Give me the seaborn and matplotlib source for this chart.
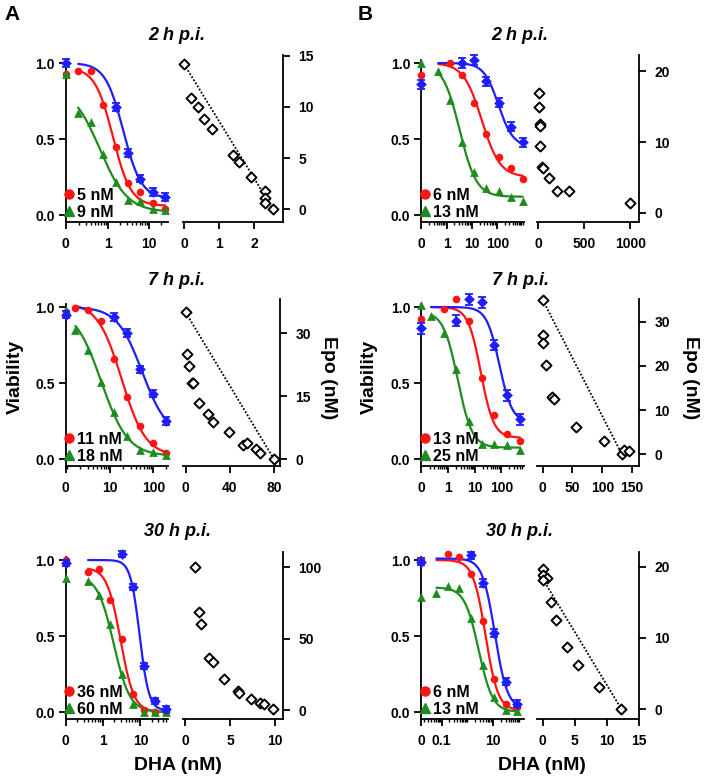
import matplotlib
matplotlib.use('Agg')
import matplotlib.pyplot as plt
from matplotlib.lines import Line2D
from matplotlib.ticker import FixedLocator, NullFormatter
import numpy as np
import seaborn as sns

nan = np.nan

# ---------------- data ----------------
titles = ['2 h p.i.', '7 h p.i.', '30 h p.i.']

# dose response: viability vs DHA (nM), 3 rows per panel (2 h, 7 h, 30 h)
a_doses = [[0.195, 0.39, 0.78, 1.56, 3.125, 6.25, 12.5, 25],
           [1.56, 3.125, 6.25, 12.5, 25, 50, 100, 200],
           [0.39, 0.78, 1.56, 3.125, 6.25, 12.5, 25, 50]]
a_red = [[0.945, 0.945, 0.725, 0.45, 0.21, 0.15, 0.08, 0.04],
         [0.994, 0.98, 0.905, 0.66, 0.41, 0.22, 0.105, 0.04],
         [0.92, 0.94, 0.74, 0.48, 0.12, 0.01, 0.0, 0.0]]
a_green = [[0.67, 0.61, 0.40, 0.22, 0.10, 0.09, 0.04, 0.03],
           [0.85, 0.72, 0.51, 0.31, 0.15, 0.057, 0.044, 0.024],
           [0.86, 0.77, 0.58, 0.25, 0.05, 0.0, 0.0, 0.0]]
a_blue = [[nan, nan, nan, 0.71, 0.41, 0.24, 0.15, 0.12],
          [nan, nan, nan, 0.934, 0.83, 0.59, 0.43, 0.25],
          [nan, nan, nan, 1.04, 0.82, 0.30, 0.07, 0.02]]
# 0 nM controls: red, green, blue
a_zero = [[0.93, 0.93, 1.0], [0.967, 0.98, 0.95], [1.0, 0.88, 0.98]]
a_sd = [0.025, 0.025, 0.02]
# Hill fits (top, bottom, IC50, slope) for red, green, blue
a_fit = [[(0.97, 0.06, 1.35, 2.0), (0.85, 0.02, 0.65, 1.3), (1.0, 0.11, 2.4, 2.0)],
         [(1.03, 0.02, 18.5, 1.55), (1.0, 0.02, 6.2, 1.4), (1.0, 0.15, 55, 1.5)],
         [(0.95, 0.0, 2.9, 2.4), (0.9, 0.0, 1.9, 2.0), (1.0, 0.01, 9.5, 3.5)]]
a_legend = [['5 nM', '9 nM'], ['11 nM', '18 nM'], ['36 nM', '60 nM']]

b_doses = [[0.457, 1.37, 4.1, 12.3, 37, 111, 333, 1000],
           [0.229, 0.686, 2.06, 6.17, 18.5, 55.6, 167, 500],
           [0.063, 0.18, 0.49, 1.4, 3.9, 11, 30, 85]]
b_red = [[nan, 1.0, 0.92, 0.74, 0.53, 0.38, 0.31, 0.235],
         [nan, 0.99, 1.055, 0.905, 0.53, 0.29, 0.166, 0.116],
         [nan, 1.04, 1.02, 0.91, 0.60, 0.22, 0.05, 0.03]]
b_green = [[0.945, 0.76, 0.48, 0.28, 0.18, 0.16, 0.12, 0.09],
           [0.94, 0.83, 0.59, 0.25, 0.10, 0.10, 0.09, 0.057],
           [0.785, 0.83, 0.813, 0.62, 0.31, 0.10, 0.01, 0.007]]
b_blue = [[nan, nan, 1.0, 1.02, 0.88, 0.74, 0.58, 0.48],
          [nan, nan, 0.91, 1.05, 1.03, 0.75, 0.42, 0.26],
          [nan, nan, nan, 1.03, 0.85, 0.52, 0.20, 0.055]]
b_zero = [[0.92, 1.0, 0.86], [0.923, 1.015, 0.86], [1.0, 0.754, 0.99]]
b_sd = [0.03, 0.035, 0.025]
b_fit = [[(1.0, 0.25, 24, 1.2), (1.0, 0.12, 3.2, 1.3), (1.0, 0.45, 110, 1.5)],
         [(1.0, 0.14, 17, 1.8), (0.97, 0.075, 2.3, 1.6), (1.0, 0.24, 85, 1.8)],
         [(1.0, 0.01, 5.0, 1.8), (0.82, 0.0, 2.7, 1.6), (1.01, 0.02, 11.5, 1.8)]]
b_legend = [['6 nM', '13 nM'], ['13 nM', '25 nM'], ['6 nM', '13 nM']]

# isobolograms: DHA (nM) vs Epo (nM)
a_iso_x = [[0, 0.2, 0.41, 0.58, 0.79, 1.41, 1.58, 1.93, 2.33, 2.33, 2.33, 2.55],
           [0, 1, 3, 5.4, 6.3, 12.4, 20.5, 25, 39.6, 51.7, 55.3, 63.4, 67.4, 80],
           [1.08, 1.56, 1.71, 2.68, 3.05, 4.31, 5.84, 5.99, 7.32, 8.33, 8.81, 9.81]]
a_iso_y = [[14.17, 10.9, 10.0, 8.86, 7.79, 5.34, 4.63, 3.16, 1.82, 1.07, 0.65, 0.0],
           [35, 25.2, 22.2, 18.3, 18.1, 13.5, 10.7, 8.9, 6.6, 3.4, 4.0, 2.4, 1.6, 0],
           [100.5, 69, 60.3, 36.2, 33.4, 21.7, 13.3, 11.7, 7.7, 5.1, 4.0, 0.5]]
a_additive = [([0, 2.55], [14.17, 0]), ([0, 80], [35, 0]), None]

b_iso_x = [[7, 7, 18, 18, 18, 43, 54, 114, 204, 339, 1000],
           [0, 0, 0, 5.6, 15.6, 18.4, 55.9, 103, 133, 137, 145],
           [0, 0, 0.68, 0, 1.3, 2.1, 3.8, 5.5, 8.75, 12.3]]
b_iso_y = [[17.0, 14.9, 12.5, 12.3, 9.5, 6.5, 6.4, 4.9, 3.1, 3.1, 1.4],
           [34.9, 27.0, 25.1, 20.2, 13.0, 12.5, 6.3, 3.0, 0.0, 1.1, 0.75],
           [19.7, 18.9, 18.5, 18.1, 15.1, 12.6, 8.7, 6.2, 3.05, 0.0]]
b_additive = [None, ([0, 133], [34.9, 0]), ([0, 12.3], [18.3, 0])]

# ---------------- axis set-up ----------------
a_lin = [0.1, 0.95, 0.1]
a_xmax = [29, 220, 55]
a_xticks = [([0, 1, 10], ['0', '1', '10']),
            ([0, 10, 100], ['0', '10', '100']),
            ([0, 1, 10], ['0', '1', '10'])]
b_lin = [0.1, 0.1, 0.0168]
b_xmax = [1100, 700, 150]
b_xticks = [([0, 1, 10, 100], ['0', '1', '10', '100']),
            ([0, 1, 10, 100], ['0', '1', '10', '100']),
            ([0, 0.1, 10], ['0', '0.1', '10'])]

a_iso_xlim = [(-0.03, 2.84), (-2.4, 85.4), (-0.26, 10.95)]
a_iso_ylim = [(-1.24, 15.06), (-1.6, 38.2), (-6.3, 110.7)]
a_iso_xticks = [[0, 1, 2], [0, 40, 80], [0, 5, 10]]
a_iso_yticks = [[0, 5, 10, 15], [0, 15, 30], [0, 50, 100]]
b_iso_xlim = [(-10.7, 1096), (-9.5, 162), (-0.9, 15.1)]
b_iso_ylim = [(-1.3, 22.3), (-2.6, 35.1), (-1.4, 22.1)]
b_iso_xticks = [[0, 500, 1000], [0, 50, 100, 150], [0, 5, 10, 15]]
b_iso_yticks = [[0, 10, 20], [0, 10, 20, 30], [0, 10, 20]]

RED = '#ff1414'
GREEN = '#1e8c1e'
BLUE = '#1e1eff'

W, H = 704, 780
ROW_DY = [0, 244, 497]

sns.set_theme(style='ticks')
plt.rcParams['font.family'] = ['Liberation Sans', 'DejaVu Sans']
plt.rcParams['font.weight'] = 'bold'
plt.rcParams['text.color'] = 'black'
plt.rcParams['axes.edgecolor'] = 'black'
plt.rcParams['xtick.color'] = 'black'
plt.rcParams['ytick.color'] = 'black'


def hill(x, top, bottom, ic50, slope):
    return bottom + (top - bottom) / (1 + (x / ic50) ** slope)


def px_axes(fig, x0, y0, x1, y1):
    return fig.add_axes([x0 / W, 1 - y1 / H, (x1 - x0) / W, (y1 - y0) / H])


def style_axis(ax):
    for s in ax.spines.values():
        s.set_linewidth(1.3)
    ax.tick_params(which='major', length=5, width=1.3, labelsize=10)
    ax.tick_params(which='minor', length=2.5, width=1.0)
    for lab in ax.get_xticklabels() + ax.get_yticklabels():
        lab.set_fontweight('bold')


def dose_panel(ax, doses, red, green, blue, zero, sd, fits, legend, lin, xmax, xticks):
    ax.set_xscale('symlog', linthresh=lin, linscale=0.01)
    ax.set_xlim(0, xmax)
    ax.set_ylim(-0.046, 1.02)
    doses = np.array(doses, dtype=float)
    grid = np.geomspace(doses[0], doses[-1], 300)
    for fit, col in zip(fits, [RED, GREEN, BLUE]):
        sns.lineplot(x=grid, y=hill(grid, *fit), color=col, linewidth=1.6, ax=ax, legend=False)

    red = np.array(red)
    green = np.array(green)
    blue = np.array(blue)
    m = ~np.isnan(red)
    sns.scatterplot(x=np.r_[0, doses[m]], y=np.r_[zero[0], red[m]], marker='o', s=30,
                    color=RED, edgecolor=RED, linewidth=0, ax=ax, clip_on=False, zorder=4)
    m = ~np.isnan(green)
    sns.scatterplot(x=np.r_[0, doses[m]], y=np.r_[zero[1], green[m]], marker='^', s=40,
                    color=GREEN, edgecolor=GREEN, linewidth=0, ax=ax, clip_on=False, zorder=4)
    m = ~np.isnan(blue)
    bx = np.r_[0, doses[m]]
    by = np.r_[zero[2], blue[m]]
    ax.errorbar(bx, by, yerr=sd, fmt='none', ecolor=BLUE, elinewidth=1.3, capsize=3.2,
                capthick=1.3, clip_on=False, zorder=5)
    sns.scatterplot(x=bx, y=by, marker='D', s=30, color=BLUE, edgecolor=BLUE, linewidth=0,
                    ax=ax, clip_on=False, zorder=5)

    ax.set_xticks(xticks[0])
    ax.set_xticklabels(xticks[1])
    minors = [mm * 10.0 ** k for k in range(-3, 4) for mm in range(1, 10)]
    minors = [v for v in minors if lin * 1.05 < v < xmax and v not in xticks[0]]
    ax.xaxis.set_minor_locator(FixedLocator(minors))
    ax.xaxis.set_minor_formatter(NullFormatter())
    ax.set_yticks([0, 0.5, 1.0])
    ax.set_yticklabels(['0.0', '0.5', '1.0'])
    ax.tick_params(axis='y', pad=3)
    ax.tick_params(axis='x', pad=5.5)
    sns.despine(ax=ax)
    style_axis(ax)

    handles = [Line2D([], [], marker='o', ls='none', color=RED, markersize=6.5),
               Line2D([], [], marker='^', ls='none', color=GREEN, markersize=7.5)]
    ax.legend(handles, legend, loc='lower left', bbox_to_anchor=(-0.01, 0.012),
              frameon=False, handlelength=0.6, handletextpad=0.2, labelspacing=0.15,
              borderaxespad=0, borderpad=0, prop=dict(size=11.5, weight='bold'))


def iso_panel(ax, x, y, additive, xlim, ylim, xticks, yticks):
    ax.set_xlim(*xlim)
    ax.set_ylim(*ylim)
    if additive is not None:
        sns.lineplot(x=additive[0], y=additive[1], color='black', linewidth=1.3,
                     linestyle=(0, (1, 1)), ax=ax, legend=False)
    sns.scatterplot(x=x, y=y, marker='D', s=26, color='white', edgecolor='black',
                    linewidth=1.4, ax=ax, clip_on=False, zorder=4)
    ax.set_xticks(xticks)
    ax.set_yticks(yticks)
    ax.yaxis.tick_right()
    ax.spines['left'].set_visible(False)
    ax.spines['top'].set_visible(False)
    ax.tick_params(axis='y', pad=6)
    ax.tick_params(axis='x', pad=5.5)
    style_axis(ax)


fig = plt.figure(figsize=(W / 100, H / 100), dpi=100)

cols = [
    dict(doses=a_doses, red=a_red, green=a_green, blue=a_blue, zero=a_zero, sd=a_sd,
         fit=a_fit, legend=a_legend, lin=a_lin, xmax=a_xmax, xticks=a_xticks,
         ix=a_iso_x, iy=a_iso_y, add=a_additive, ixl=a_iso_xlim, iyl=a_iso_ylim,
         ixt=a_iso_xticks, iyt=a_iso_yticks, left=(65.7, 168), right=(183, 283.3)),
    dict(doses=b_doses, red=b_red, green=b_green, blue=b_blue, zero=b_zero, sd=b_sd,
         fit=b_fit, legend=b_legend, lin=b_lin, xmax=b_xmax, xticks=b_xticks,
         ix=b_iso_x, iy=b_iso_y, add=b_additive, ixl=b_iso_xlim, iyl=b_iso_ylim,
         ixt=b_iso_xticks, iyt=b_iso_yticks, left=(421.3, 523.7), right=(537, 639.3)),
]

for ci, c in enumerate(cols):
    for r in range(3):
        dy = ROW_DY[r]
        axl = px_axes(fig, c['left'][0], 60 + dy, c['left'][1], 222 + dy)
        dose_panel(axl, c['doses'][r], c['red'][r], c['green'][r], c['blue'][r],
                   c['zero'][r], c['sd'][r], c['fit'][r], c['legend'][r],
                   c['lin'][r], c['xmax'][r], c['xticks'][r])
        rx1 = c['right'][1]
        if ci == 0 and r == 1:
            rx1 = 280
        axr = px_axes(fig, c['right'][0], 55 + dy, rx1, 222 + dy)
        iso_panel(axr, c['ix'][r], c['iy'][r], c['add'][r], c['ixl'][r], c['iyl'][r],
                  c['ixt'][r], c['iyt'][r])


def ftext(x, y, s, **kw):
    fig.text(x / W, 1 - y / H, s, ha='center', va='center', fontweight='bold', **kw)


ftext(12, 15, 'A', fontsize=15)
ftext(365, 15, 'B', fontsize=15)
for r, t in enumerate(titles):
    ty = [35, 280, 532][r]
    ftext(177, ty, t, fontsize=13, fontstyle='italic')
    ftext(520, ty, t, fontsize=13, fontstyle='italic')
ftext(15, 377, 'Viability', fontsize=14, rotation=90)
ftext(369.5, 377, 'Viability', fontsize=14, rotation=90)
ftext(328.5, 377.5, 'Epo (nM)', fontsize=14, rotation=270)
ftext(690, 378, 'Epo (nM)', fontsize=14, rotation=270)
ftext(178, 765, 'DHA (nM)', fontsize=14)
ftext(542, 765, 'DHA (nM)', fontsize=14)

fig.savefig('out.png', dpi=100)
